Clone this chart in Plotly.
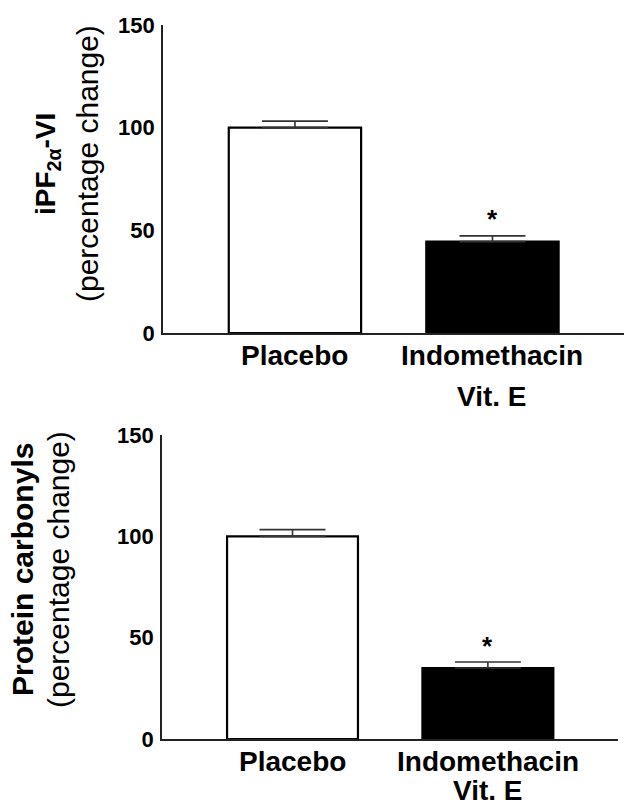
import plotly.graph_objects as go

categories = ["Placebo", "Indomethacin<br>Vit. E"]
ipf_mean = [100, 44.5]
ipf_sem = [3.2, 2.8]
carb_mean = [100, 35]
carb_sem = [3.3, 3.0]
bar_colors = ["white", "black"]
y_ticks = [0, 50, 100, 150]
sig = ["", "*"]
titles_top = ["<b>iPF<sub>2α</sub>-VI</b>", "(percentage change)"]
titles_bottom = ["<b>Protein carbonyls</b>", "(percentage change)"]

W, H = 624, 807
fig = go.Figure()

def add_panel(mean, sem, xa, ya, label_rows):
    fig.add_trace(go.Bar(
        x=[0, 1], y=mean, width=0.67,
        marker=dict(color=bar_colors, line=dict(color="black", width=2.2)),
        error_y=dict(type="data", array=sem, arrayminus=[0, 0], symmetric=False,
                     color="#333333", thickness=1.6, width=33),
        xaxis=xa, yaxis=ya, showlegend=False))
    for i, s in enumerate(sig):
        if s:
            fig.add_annotation(x=i, y=mean[i] + sem[i] + 8, text="<b>" + s + "</b>",
                               xref=xa, yref=ya, showarrow=False,
                               font=dict(size=26, color="black", family="Liberation Sans"),
                               yanchor="middle")
    # category labels, one annotation per line
    for i, c in enumerate(categories):
        for line, yp in zip(c.split("<br>"), label_rows):
            fig.add_annotation(x=i, y=1 - yp / H, xref=xa, yref="paper", showarrow=False,
                               text="<b>" + line + "</b>", xanchor="center", yanchor="middle",
                               font=dict(family="Liberation Sans", size=28, color="black"))

add_panel(ipf_mean, ipf_sem, "x", "y", [356, 396])
add_panel(carb_mean, carb_sem, "x2", "y2", [761, 790])

tickfont = dict(family="Liberation Sans", size=22, color="black")

xcommon = dict(tickmode="array", tickvals=[0, 1], showticklabels=False,
               showline=True, linecolor="#222222", linewidth=1.8,
               ticks="", showgrid=False, zeroline=False, range=[-0.668, 1.666],
               automargin=False)
ycommon = dict(range=[0, 150], tickvals=y_ticks, ticktext=["<b>%d</b>" % v for v in y_ticks],
               tickfont=tickfont, showline=True, linecolor="#222222", linewidth=1.8,
               ticks="", showgrid=False, zeroline=False, ticklabelstandoff=2, automargin=False)

fig.update_layout(
    width=W, height=H, margin=dict(l=0, r=0, t=0, b=0, autoexpand=False),
    paper_bgcolor="white", plot_bgcolor="white",
    xaxis=dict(domain=[163 / W, 1.0], anchor="y", **xcommon),
    yaxis=dict(domain=[1 - 333 / H, 1 - 25 / H], anchor="x", **ycommon),
    xaxis2=dict(domain=[162 / W, 618 / W], anchor="y2", **xcommon),
    yaxis2=dict(domain=[1 - 739 / H, 1 - 435 / H], anchor="x2", **ycommon),
)

def add_title(lines, xs, yc, sizes):
    for t, xp, sz in zip(lines, xs, sizes):
        fig.add_annotation(x=xp / W, y=1 - yc / H, xref="paper", yref="paper", showarrow=False,
                           textangle=-90, xanchor="center", yanchor="middle", text=t,
                           font=dict(family="Liberation Sans", size=sz, color="black"))

add_title(titles_top, [47, 87], 164, [28, 30])
add_title(titles_bottom, [22, 58], 570, [30, 30])

fig.write_html("out.html")
